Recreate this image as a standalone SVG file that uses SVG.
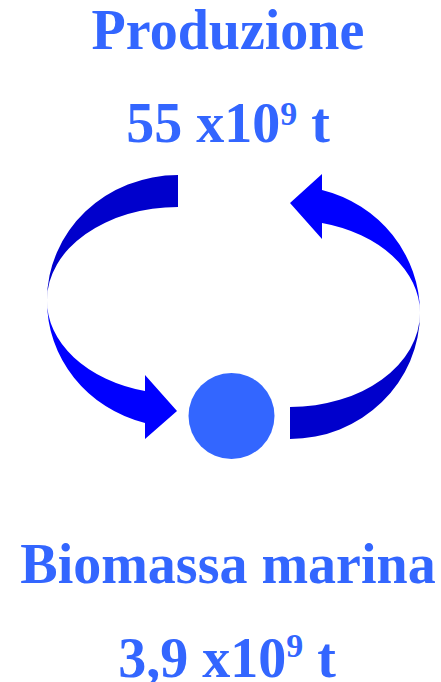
<svg xmlns="http://www.w3.org/2000/svg" width="441" height="682" viewBox="0 0 441 682">
<style>
.lbl{font-family:"Liberation Serif","Times New Roman",serif;font-weight:bold;fill:#3366FF;font-size:56px;text-anchor:middle}
.sup{font-size:34px}
.dark{fill:#0000CC}
.bright{fill:#0000FF}
</style>
<rect width="441" height="682" fill="#FFFFFF"/>
<g id="connectors">
<g id="arrow-left">
<path class="dark" d="M178,175 A131,125 0 0 0 47,300 A131,93 0 0 1 178,207 Z"/>
<path class="bright" d="M47,300 A131,126 0 0 0 145,423 L145,439 L177,411 L145,375 L145,391 A131,93 0 0 1 47,300 Z"/>
</g>
<g id="arrow-right">
<path class="dark" d="M290,439 A130,126 0 0 0 420,313 A130,94 0 0 1 290,407 Z"/>
<path class="bright" d="M420,313 A130,127 0 0 0 322,190 L322,174 L290,203 L322,239 L322,223 A130,93 0 0 1 420,313 Z"/>
</g>
</g>
<g id="node-produzione">
<text class="lbl" x="228" y="49">Produzione</text>
<text class="lbl" x="228" y="142">55 x10<tspan class="sup" dy="-17">9</tspan><tspan dy="17"> t</tspan></text>
</g>
<g id="node-biomassa">
<circle cx="231.5" cy="416" r="43" fill="#3366FF"/>
</g>
<g id="node-biomassa-label">
<text class="lbl" x="228" y="583">Biomassa marina</text>
<text class="lbl" x="227" y="677">3,9 x10<tspan class="sup" dy="-20">9</tspan><tspan dy="20"> t</tspan></text>
</g>
</svg>
